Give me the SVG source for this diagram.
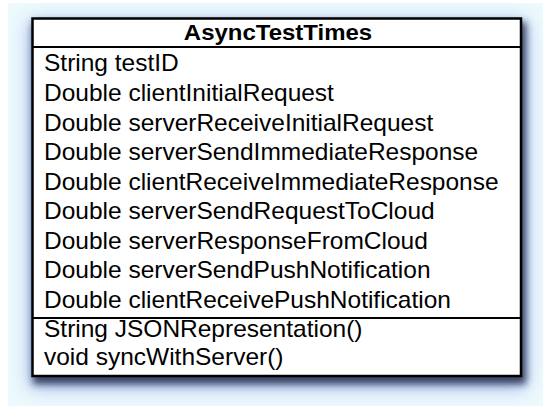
<svg xmlns="http://www.w3.org/2000/svg" width="552" height="406" viewBox="0 0 552 406">
  <style>
    .frame { fill: #ffffff; stroke: #000000; stroke-width: 2.5; }
    .rule { stroke: #000000; stroke-width: 2; }
    .member { font-family: "Liberation Sans", Arial, sans-serif; font-size: 23px; fill: #000000; }
    .title { font-family: "Liberation Sans", Arial, sans-serif; font-size: 22px; font-weight: bold; fill: #000000; }
  </style>
  <defs>
    <filter id="glow" x="-20%" y="-20%" width="140%" height="140%">
      <feGaussianBlur stdDeviation="9"/>
    </filter>
    <filter id="drop" x="-10%" y="-10%" width="120%" height="120%">
      <feGaussianBlur stdDeviation="3.5"/>
    </filter>
  </defs>

  <!-- canvas backdrop -->
  <rect x="8" y="3" width="535" height="403" fill="#ecf9fd"/>

  <!-- soft shadow beneath the class box -->
  <rect x="30" y="22" width="496" height="365" fill="#7d92e0" opacity="0.75" filter="url(#glow)"/>
  <rect x="33" y="22" width="493" height="362" fill="#1e2640" opacity="0.8" filter="url(#drop)"/>

  <!-- class node -->
  <g id="AsyncTestTimes">
    <rect class="frame" x="32.5" y="18.5" width="488.5" height="357.5"/>
    <line class="rule" x1="32.5" y1="47" x2="521" y2="47"/>
    <line class="rule" x1="32.5" y1="318" x2="521" y2="318"/>

    <text class="title" text-anchor="middle" transform="translate(278 39.5) scale(1.09 1)">AsyncTestTimes</text>

    <!-- attributes -->
    <g transform="translate(44 0) scale(1.065 1)">
      <text class="member" x="0" y="71.5">String testID</text>
      <text class="member" x="0" y="101">Double clientInitialRequest</text>
      <text class="member" x="0" y="130.6">Double serverReceiveInitialRequest</text>
      <text class="member" x="0" y="160.2">Double serverSendImmediateResponse</text>
      <text class="member" x="0" y="189.7">Double clientReceiveImmediateResponse</text>
      <text class="member" x="0" y="219.3">Double serverSendRequestToCloud</text>
      <text class="member" x="0" y="248.9">Double serverResponseFromCloud</text>
      <text class="member" x="0" y="278.4">Double serverSendPushNotification</text>
      <text class="member" x="0" y="308">Double clientReceivePushNotification</text>
    </g>

    <!-- operations -->
    <g transform="translate(44 0) scale(1.065 1)">
      <text class="member" x="0" y="336.7">String JSONRepresentation()</text>
      <text class="member" x="0" y="365">void syncWithServer()</text>
    </g>
  </g>
</svg>
